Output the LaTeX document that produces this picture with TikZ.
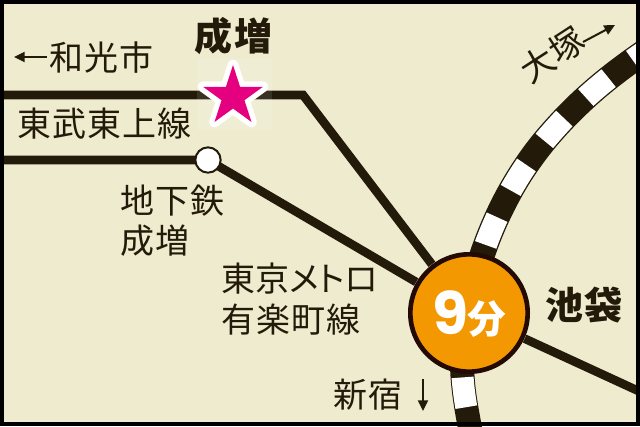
\documentclass[tikz,border=0pt]{standalone}
\usepackage{fontspec}
\usetikzlibrary{arrows.meta,shapes.geometric}
\newfontfamily\jp{Noto Sans CJK JP}[LetterSpace=3]
\newfontfamily\jpk{Noto Sans CJK JP}[RawFeature=+palt]
\newfontfamily\jpb{Noto Sans CJK JP}[LetterSpace=4]
\newfontfamily\pop{Poppins}
\definecolor{bgc}{HTML}{EEEBCF}
\definecolor{ink}{HTML}{231A0A}
\definecolor{orng}{HTML}{F39800}
\definecolor{mgnt}{HTML}{E4007F}
\newcommand{\trackup}{(470,300) .. controls (480,250) and (505,185) .. (552,132) .. controls (580,100) and (610,75) .. (650,48)}
\newcommand{\tracklow}{(472,440) .. controls (467,410) and (462,390) .. (462,360)}
\tikzset{
  line/.style={draw=ink,line width=6.5pt,line join=miter},
  thin arrow/.style={draw=ink,line width=1.5pt,-{Triangle[length=8pt,width=7.5pt]}},
  lab/.style={inner sep=0pt,anchor=west,text=ink,font=\fontsize{25.5pt}{25.5pt}\selectfont\jp},
  bold lab/.style={inner sep=0pt,text=ink,font=\fontsize{28.5pt}{28.5pt}\selectfont\jpb\bfseries},
}
\begin{document}
\begin{tikzpicture}[x=0.75pt,y=-0.75pt]
\useasboundingbox (0,0) rectangle (640,426);
\fill[bgc] (0,0) rectangle (640,426);
\coordinate (wL) at (-5,95);
\coordinate (wB) at (303,95);
\coordinate (yL) at (-5,160);
\coordinate (eR) at (645,394);
\node[circle,minimum size=91.5pt,inner sep=0pt] (ike) at (469,313) {};
\begin{scope}
\clip (0,0) rectangle (640,426);
\draw[draw=ink,line width=19pt] \trackup;
\draw[draw=white,line width=17pt,dash pattern=on 22.5pt off 22.5pt,dash phase=2pt] \trackup;
\draw[draw=ink,line width=18pt] \tracklow;
\draw[draw=white,line width=16.5pt,dash pattern=on 22.5pt off 22.5pt,dash phase=20pt] \tracklow;
\draw[line] (wL) -- (wB) -- (ike);
\draw[line] (yL) -- (208,160) -- (ike);
\draw[line] (ike) -- (eR);
\end{scope}
\node[circle,draw=ink,line width=1.5pt,fill=white,minimum size=19pt,inner sep=0pt] (chika) at (208,160) {};
\node[circle,draw={rgb,255:red,35;green,10;blue,5},line width=3.5pt,fill=orng,minimum size=88pt,inner sep=0pt] (ikeb) at (469,313) {};
\node[inner sep=0pt,text=white,font=\fontsize{44pt}{44pt}\selectfont\pop\bfseries] (nine) at (451,313) {9};
\node[inner sep=0pt,text=white,font=\fontsize{29pt}{29pt}\selectfont\jpk\bfseries] (fun) at (486.5,319) {分};
\fill[white,opacity=0.1] (197,58) rectangle (272,130);
\node[star,star points=5,star point ratio=2.618,draw=white,line width=8pt,line join=round,fill=mgnt,minimum size=47.2pt,inner sep=0pt] (st) at (233,96.5) {};
\node[star,star points=5,star point ratio=2.618,fill=mgnt,minimum size=47.2pt,inner sep=0pt] (st2) at (233,96.5) {};
\node[bold lab] (narimasu) at (233.5,36) {成増};
\node[bold lab] (ikebukuro) at (584,305) {池袋};
\coordinate (waR) at (47,57);
\coordinate (waL) at (14,57);
\draw[thin arrow] (waR) -- (waL);
\node[lab] (wako) at (49,58) {和光市};
\node[lab] (tobu) at (17,124) {東武東上線};
\node[lab] (t1) at (120,201) {地下鉄};
\node[lab] (t2) at (120,241) {成増};
\node[lab,font=\fontsize{25.5pt}{25.5pt}\selectfont\jpk] (m1) at (221,279) {東京メトロ};
\node[lab] (m2) at (221,320) {有楽町線};
\node[lab] (shin) at (333,395) {新宿};
\coordinate (sT) at (423,379);
\coordinate (sB) at (423,411);
\draw[thin arrow] (sT) -- (sB);
\node[inner sep=0pt,text=ink,rotate=33,font=\fontsize{25.5pt}{25.5pt}\selectfont\jp] (otsuka) at (552,55) {大塚};
\coordinate (oA) at (583,42);
\coordinate (oB) at (615,25);
\draw[thin arrow] (oA) -- (oB);
\draw[black,line width=3pt] (2,2) rectangle (638,424);
\end{tikzpicture}
\end{document}
